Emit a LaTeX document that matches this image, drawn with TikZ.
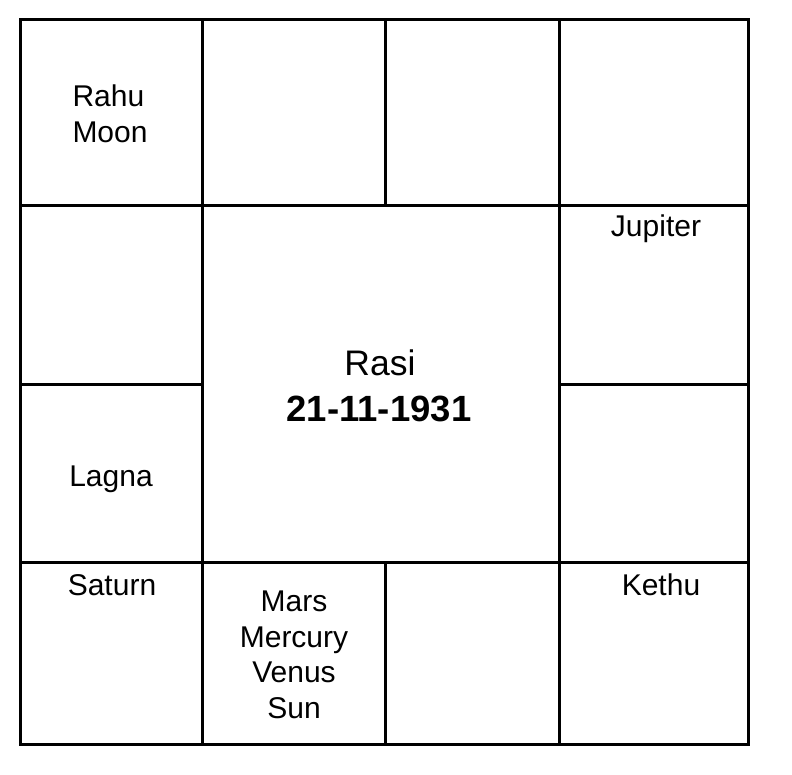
\documentclass[tikz,border=0pt]{standalone}
\usepackage{fontspec}
\setmainfont{Liberation Sans}
\begin{document}
\begin{tikzpicture}[x=1pt, y=-1pt, line width=3pt,
    planet/.style={anchor=base, align=center, inner sep=0pt,
        font=\fontsize{30}{35.5}\selectfont},
    title/.style={anchor=base, inner sep=0pt,
        font=\fontsize{35.5}{46}\selectfont}]
    \useasboundingbox (0,0) rectangle (792,774);
    
    % Chart grid
    \draw (20,19) rectangle (748,744);
    \draw (20,205) -- (748,205);
    \draw (20,562) -- (748,562);
    \draw (20,384) -- (202,384);
    \draw (559,384) -- (748,384);
    \draw (202,19) -- (202,744);
    \draw (559,19) -- (559,744);
    \draw (385,19) -- (385,205);
    \draw (385,562) -- (385,744);
    
    % Houses (base anchor sits on the last line)
    \node[planet, align=left, anchor=base west] (rahu) at (71,142) {Rahu\\Moon};
    \node[planet] (lagna) at (111,486) {Lagna};
    \node[planet] (saturn) at (112,595) {Saturn};
    \node[planet] (mars) at (294,718) {Mars\\Mercury\\Venus\\Sun};
    \node[planet] (kethu) at (661,595) {Kethu};
    \node[planet] (jupiter) at (656,236) {Jupiter};
    
    % Centre
    \node[title] (rasi) at (380,375) {Rasi};
    \node[title, font=\fontsize{36.5}{46}\selectfont\bfseries] (date) at (379,421) {21-11-1931};
\end{tikzpicture}
\end{document}
